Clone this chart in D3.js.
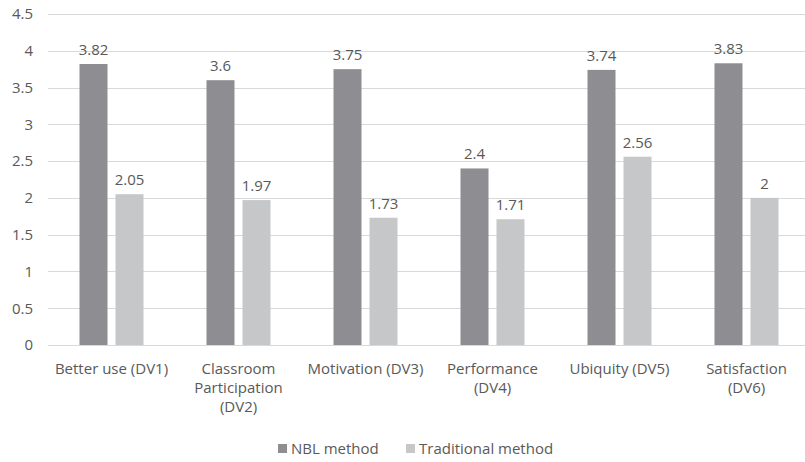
<!DOCTYPE html>
<html>
<head>
<meta charset="utf-8">
<script src="https://cdn.jsdelivr.net/npm/d3@7"></script>
<style>
  body { margin: 0; background: #fff; }
  text { font-family: "Open Sans", sans-serif; fill: #595959; }
</style>
</head>
<body>
<svg id="svg" width="805" height="462"></svg>
<script>
  // chart data
  var categories = ["Better use (DV1)", "Classroom Participation (DV2)", "Motivation (DV3)", "Performance (DV4)", "Ubiquity (DV5)", "Satisfaction (DV6)"];
  var categoryLines = [["Better use (DV1)"], ["Classroom", "Participation", "(DV2)"], ["Motivation (DV3)"], ["Performance", "(DV4)"], ["Ubiquity (DV5)"], ["Satisfaction", "(DV6)"]];
  var seriesNames = ["NBL method", "Traditional method"];
  var nblValues = [3.82, 3.6, 3.75, 2.4, 3.74, 3.83];
  var tradValues = [2.05, 1.97, 1.73, 1.71, 2.56, 2];
  var yTicks = [0, 0.5, 1, 1.5, 2, 2.5, 3, 3.5, 4, 4.5];

  var fillColors = ["#8e8e92", "#c6c7c9"];
  var fontSize = "15px";

  var svg = d3.select("#svg");

  // plot area
  var plotLeft = 48, plotRight = 810, plotTop = 14, plotBottom = 345;

  var x0 = d3.scaleBand().domain(categories).range([plotLeft, plotRight]).paddingInner(0).paddingOuter(0);
  var x1 = d3.scaleBand().domain(seriesNames).range([0, x0.bandwidth()]).paddingInner(0.222).paddingOuter(0.875);
  var y = d3.scaleLinear().domain([0, 4.5]).range([plotBottom, plotTop]);

  // gridlines
  svg.append("g").selectAll("line")
    .data(yTicks)
    .enter().append("line")
    .attr("x1", plotLeft).attr("x2", 805)
    .attr("y1", function(d) { return Math.round(y(d)) + 0.5; })
    .attr("y2", function(d) { return Math.round(y(d)) + 0.5; })
    .attr("stroke", "#d9d9d9").attr("stroke-width", 1);

  // y axis labels
  var yAxis = d3.axisLeft(y).tickValues(yTicks).tickSize(0).tickPadding(0).tickFormat(function(d) { return d; });
  svg.append("g")
    .attr("transform", "translate(33,0)")
    .call(yAxis)
    .call(function(g) { g.select(".domain").remove(); })
    .selectAll("text")
      .attr("fill", "#595959")
      .style("font-size", fontSize)
      .style("font-family", "'Open Sans', sans-serif");

  // data points
  var dataPoints = [];
  categories.forEach(function(c, i) {
    dataPoints.push({ cat: c, series: seriesNames[0], value: nblValues[i], color: fillColors[0] });
    dataPoints.push({ cat: c, series: seriesNames[1], value: tradValues[i], color: fillColors[1] });
  });

  // bars
  svg.append("g").selectAll("rect")
    .data(dataPoints)
    .enter().append("rect")
    .attr("x", function(d) { return x0(d.cat) + x1(d.series); })
    .attr("y", function(d) { return y(d.value); })
    .attr("width", x1.bandwidth())
    .attr("height", function(d) { return y(0) - y(d.value); })
    .attr("fill", function(d) { return d.color; });

  // value labels
  svg.append("g").selectAll("text")
    .data(dataPoints)
    .enter().append("text")
    .attr("x", function(d) { return x0(d.cat) + x1(d.series) + x1.bandwidth() / 2; })
    .attr("y", function(d) { return y(d.value) - 9; })
    .attr("text-anchor", "middle")
    .style("font-size", fontSize)
    .text(function(d) { return d.value; });

  // category labels
  var catG = svg.append("g").selectAll("text")
    .data(categories)
    .enter().append("text")
    .attr("text-anchor", "middle")
    .style("font-size", fontSize)
    .attr("transform", function(d) { return "translate(" + (x0(d) + x0.bandwidth() / 2) + ",374)"; });

  catG.selectAll("tspan")
    .data(function(d, i) { return categoryLines[i]; })
    .enter().append("tspan")
    .attr("x", 0)
    .attr("y", function(d, i) { return i * 19; })
    .text(function(d) { return d; });

  // legend
  var legendX = [278, 406];
  var legend = svg.append("g").selectAll("g")
    .data(seriesNames)
    .enter().append("g")
    .attr("transform", function(d, i) { return "translate(" + legendX[i] + ",444)"; });

  legend.append("rect")
    .attr("width", 9).attr("height", 9)
    .attr("fill", function(d, i) { return fillColors[i]; });

  legend.append("text")
    .attr("x", 13).attr("y", 10)
    .style("font-size", fontSize)
    .text(function(d) { return d; });
</script>
</body>
</html>
